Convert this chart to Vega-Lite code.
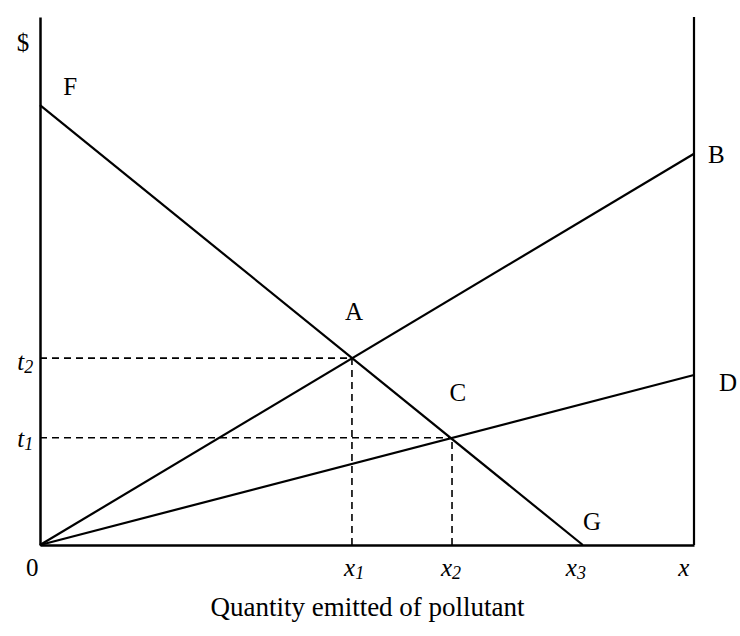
{
  "$schema": "https://vega.github.io/schema/vega-lite/v6.json",
  "width": 654,
  "height": 528,
  "autosize": {"type": "none"},
  "padding": {"left": 40, "top": 17, "right": 46, "bottom": 91},
  "background": "white",
  "config": {"view": {"stroke": null}},
  "datasets": {
    "segments": [
      {"name": "FG", "kind": "solid", "x": 0, "y": 83.3, "x2": 83.0, "y2": 0},
      {"name": "OB", "kind": "solid", "x": 0, "y": 0, "x2": 100, "y2": 74.1},
      {"name": "OD", "kind": "solid", "x": 0, "y": 0, "x2": 100, "y2": 32.2},
      {"name": "right", "kind": "solid", "x": 100, "y": 0, "x2": 100, "y2": 100},
      {"name": "t2h", "kind": "dashed", "x": 0, "y": 35.4, "x2": 47.7, "y2": 35.4},
      {"name": "x1v", "kind": "dashed", "x": 47.7, "y": 0, "x2": 47.7, "y2": 35.4},
      {"name": "t1h", "kind": "dashed", "x": 0, "y": 20.3, "x2": 63.0, "y2": 20.3},
      {"name": "x2v", "kind": "dashed", "x": 63.0, "y": 0, "x2": 63.0, "y2": 20.3}
    ],
    "points": [
      {"label": "$", "x": -2.6, "y": 95.1},
      {"label": "F", "x": 4.6, "y": 86.7},
      {"label": "B", "x": 103.4, "y": 73.9},
      {"label": "D", "x": 105.2, "y": 30.7},
      {"label": "A", "x": 48.0, "y": 44.1},
      {"label": "C", "x": 63.9, "y": 28.8},
      {"label": "G", "x": 84.4, "y": 4.4},
      {"label": "0", "x": -1.2, "y": -4.4}
    ],
    "vars": [
      {"label": "t", "sub": "2", "x": -2.4, "y": 34.7},
      {"label": "t", "sub": "1", "x": -2.4, "y": 20.1},
      {"label": "x", "sub": "1", "x": 48.2, "y": -4.4},
      {"label": "x", "sub": "2", "x": 63.0, "y": -4.4},
      {"label": "x", "sub": "3", "x": 82.1, "y": -4.4},
      {"label": "x", "sub": "", "x": 99.3, "y": -4.4}
    ]
  },
  "layer": [
    {
      "data": {"name": "segments"},
      "transform": [{"filter": "datum.kind === 'solid'"}],
      "mark": {"type": "rule", "color": "black", "strokeWidth": 2.2, "clip": false},
      "encoding": {
        "x": {"field": "x", "type": "quantitative", "scale": {"domain": [0, 100], "nice": false, "zero": false},
          "axis": {"domain": true, "domainColor": "black", "domainWidth": 2.5, "ticks": false, "labels": false, "grid": false,
            "title": "Quantity emitted of pollutant", "titleFont": "Liberation Serif", "titleFontSize": 27,
            "titleFontWeight": "normal", "titleColor": "black", "titlePadding": 49}},
        "y": {"field": "y", "type": "quantitative", "scale": {"domain": [0, 100], "nice": false, "zero": false},
          "axis": {"domain": true, "domainColor": "black", "domainWidth": 2.5, "ticks": false, "labels": false, "grid": false, "title": null}},
        "x2": {"field": "x2"},
        "y2": {"field": "y2"}
      }
    },
    {
      "data": {"name": "segments"},
      "transform": [{"filter": "datum.kind === 'dashed'"}],
      "mark": {"type": "rule", "color": "black", "strokeWidth": 1.6, "strokeDash": [7, 5], "clip": false},
      "encoding": {
        "x": {"field": "x", "type": "quantitative"},
        "y": {"field": "y", "type": "quantitative"},
        "x2": {"field": "x2"},
        "y2": {"field": "y2"}
      }
    },
    {
      "data": {"name": "points"},
      "mark": {"type": "text", "font": "Liberation Serif", "fontSize": 25, "color": "black", "align": "center", "baseline": "middle"},
      "encoding": {
        "x": {"field": "x", "type": "quantitative"},
        "y": {"field": "y", "type": "quantitative"},
        "text": {"field": "label"}
      }
    },
    {
      "data": {"name": "vars"},
      "mark": {"type": "text", "font": "Liberation Serif", "fontSize": 25, "fontStyle": "italic", "color": "black", "align": "right", "baseline": "middle"},
      "encoding": {
        "x": {"field": "x", "type": "quantitative"},
        "y": {"field": "y", "type": "quantitative"},
        "text": {"field": "label"}
      }
    },
    {
      "data": {"name": "vars"},
      "mark": {"type": "text", "font": "Liberation Serif", "fontSize": 18, "fontStyle": "italic", "color": "black", "align": "left", "baseline": "middle", "dy": 6},
      "encoding": {
        "x": {"field": "x", "type": "quantitative"},
        "y": {"field": "y", "type": "quantitative"},
        "text": {"field": "sub"}
      }
    }
  ]
}
